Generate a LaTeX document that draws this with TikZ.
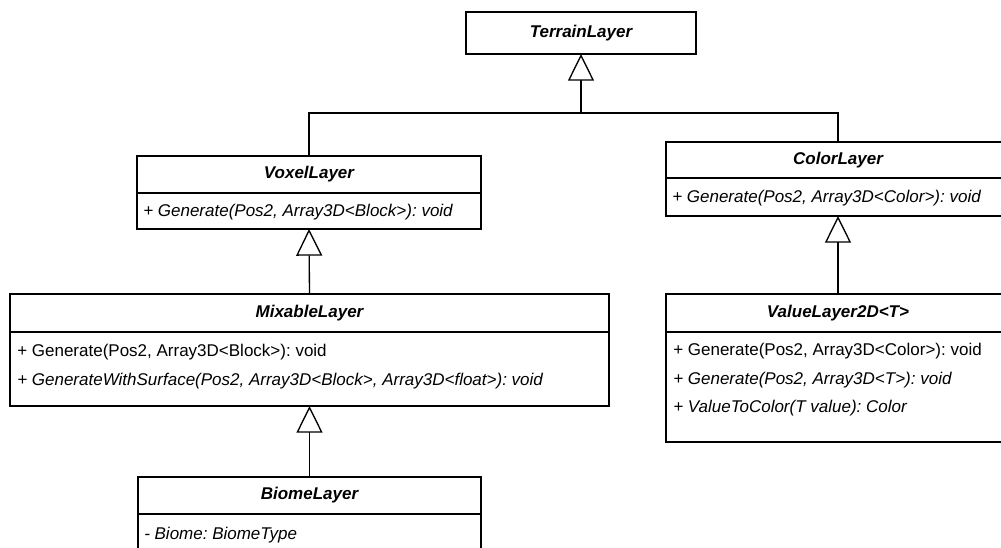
\documentclass[tikz,border=0pt]{standalone}
\usepackage{fontspec}
\setmainfont{Liberation Sans}
\usetikzlibrary{arrows.meta}
\begin{document}
\begin{tikzpicture}[x=0.75pt,y=-0.75pt,
  box/.style={draw=black, line width=1pt, anchor=north west, inner sep=0pt, outer sep=0pt},
  title/.style={box, font=\fontsize{12.75pt}{15pt}\selectfont\frenchspacing\bfseries\itshape},
  row/.style={anchor=west, inner sep=0pt, font=\fontsize{12.75pt}{15pt}\selectfont\frenchspacing},
  irow/.style={row, font=\fontsize{12.75pt}{15pt}\selectfont\frenchspacing\itshape},
  link/.style={draw=black, line width=1pt},
  inh/.style={link, -{Triangle[open, length=20pt, width=19.5pt, fill=white]}},
]
\useasboundingbox (0,0) rectangle (1001,547);
\clip (0,0) rectangle (1001,547);

% TerrainLayer
\node[title, minimum width=230*0.75pt, minimum height=42*0.75pt] (terrain) at (466,12) {TerrainLayer};

% VoxelLayer
\node[title, minimum width=344*0.75pt, minimum height=37*0.75pt] (voxH) at (137,156) {VoxelLayer};
\node[box, minimum width=344*0.75pt, minimum height=36*0.75pt] (voxB) at (137,193) {};
\node[irow] (voxR1) at (143,212) {+ Generate(Pos2, Array3D<Block>): void};

% ColorLayer
\node[title, minimum width=344*0.75pt, minimum height=36*0.75pt] (colH) at (666,142) {ColorLayer};
\node[box, minimum width=344*0.75pt, minimum height=38*0.75pt] (colB) at (666,178) {};
\node[irow] (colR1) at (672,198) {+ Generate(Pos2, Array3D<Color>): void};

% MixableLayer
\node[title, minimum width=599*0.75pt, minimum height=38*0.75pt] (mixH) at (10,294) {MixableLayer};
\node[box, minimum width=599*0.75pt, minimum height=74*0.75pt] (mixB) at (10,332) {};
\node[row] (mixR1) at (17,352) {+ Generate(Pos2, Array3D<Block>): void};
\node[irow] (mixR2) at (17,381) {+ GenerateWithSurface(Pos2, Array3D<Block>, Array3D<float>): void};

% ValueLayer2D
\node[title, minimum width=344*0.75pt, minimum height=38*0.75pt] (valH) at (666,294) {ValueLayer2D<T>};
\node[box, minimum width=344*0.75pt, minimum height=110*0.75pt] (valB) at (666,332) {};
\node[row] (valR1) at (673,351) {+ Generate(Pos2, Array3D<Color>): void};
\node[irow] (valR2) at (673,380) {+ Generate(Pos2, Array3D<T>): void};
\node[irow] (valR3) at (673,408) {+ ValueToColor(T value): Color};

% BiomeLayer
\node[title, minimum width=343*0.75pt, minimum height=37*0.75pt] (bioH) at (138,477) {BiomeLayer};
\node[box, minimum width=343*0.75pt, minimum height=50*0.75pt] (bioB) at (138,514) {};
\node[irow] (bioR1) at (144,535) {- Biome: BiomeType};

% connectors
\coordinate (jn) at (581,113);
\draw[link] (voxH.north) |- (jn) -| (colH.north);
\draw[inh] (jn) -- (terrain.south);
\draw[inh] (mixH.north) -- (voxB.south);
\draw[inh] (valH.north) -- (colB.south);
\draw[inh] (bioH.north) -- (mixB.south);
\end{tikzpicture}
\end{document}
